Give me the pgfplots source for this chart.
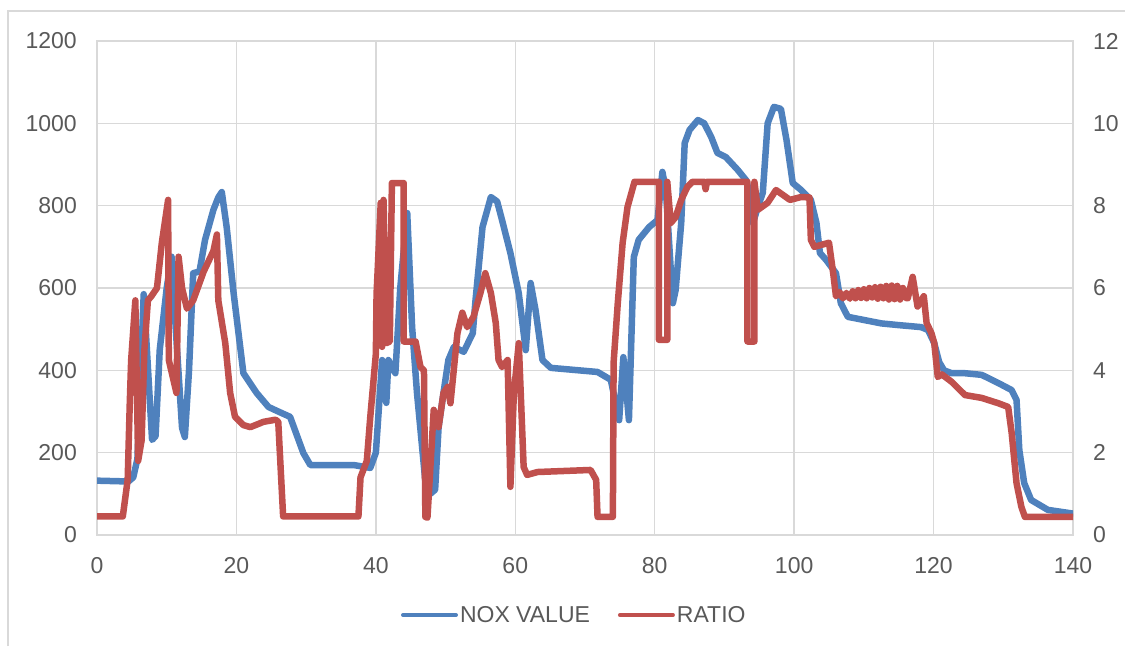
\documentclass[border=0pt]{standalone}
\usepackage{pgfplots}
\pgfplotsset{compat=1.18}
\usepackage{fontspec}
\setmainfont{Liberation Sans}
\definecolor{noxblue}{HTML}{4F81BD}
\definecolor{ratiored}{HTML}{C0504D}
\definecolor{txtgray}{HTML}{595959}
\definecolor{gridgray}{HTML}{D9D9D9}
\begin{document}
\begin{tikzpicture}[x=1pt,y=1pt]
\path[use as bounding box] (0,0) rectangle (1125,646);
\draw[gridgray, line width=1.5pt] (8,0) -- (8,635) -- (1125,635);
\pgfplotsset{
  every axis/.append style={
    scale only axis, width=976pt, height=494pt,
    at={(97pt,111pt)}, anchor=south west,
    xmin=0, xmax=140,
    major tick length=0pt,
    tick label style={font=\fontsize{23}{23}\selectfont, text=txtgray, inner sep=0pt},
    /pgf/number format/assume math mode=true,
    /pgf/number format/1000 sep={},
  }
}
\begin{axis}[
  ymin=0, ymax=1200,
  ytick={0,200,...,1200},
  xtick={0,20,...,140},
  grid=major,
  grid style={gridgray, line width=1.5pt},
  axis line style={gridgray, line width=1.5pt},
  yticklabel style={xshift=-20pt},
  xticklabel style={yshift=-22pt},
]
\addplot[noxblue, line width=6.5pt, line join=round, line cap=round] coordinates {
(0,132) (4.5,130) (5.2,140) (5.8,185) (6.7,585) (7.9,231) (8.4,240) (9.0,450) (10.0,600) (10.7,676)
(11.3,500) (12.2,260) (12.6,238) (13.2,400) (13.8,636) (14.7,640) (15.5,717) (16.7,790) (17.4,820)
(17.9,833) (18.6,748) (19.6,587) (21.0,393) (22.9,345) (24.6,311) (26.0,300) (27.7,287) (28.5,250)
(29.6,199) (30.6,170) (36.8,170) (39.2,163) (40.0,200) (40.9,425) (41.5,321) (41.8,425) (42.8,393)
(43.5,600) (44.5,782) (45.2,505) (45.9,345) (47.1,130) (47.8,100) (48.5,110) (49.0,262) (49.7,345)
(50.4,425) (51.2,457) (52.6,445) (53.9,490) (54.3,571) (55.3,748) (56.5,821) (57.4,810) (58.1,765)
(59.3,685) (60.5,587) (61.5,449) (62.2,612) (62.9,547) (63.9,425) (65.1,406) (71.8,396) (73.7,377)
(74.9,279) (75.5,432) (76.3,279) (77.0,675) (77.7,717) (79.2,748) (80.4,765) (81.1,882) (81.6,838)
(82.6,563) (83.0,595) (83.8,758) (84.3,952) (85.0,984) (86.2,1008) (87.1,1000) (88.1,967) (89.0,928)
(90.2,918) (91.9,887) (93.1,862) (93.5,838) (94.1,758) (94.8,797) (95.5,831) (96.2,1000) (97.1,1040)
(98.1,1035) (98.9,960) (99.8,855) (101.0,838) (102.4,814) (103.2,758) (103.7,685) (104.6,668)
(106.0,636) (106.7,563) (107.7,530) (110.1,522) (112.5,514) (114.9,510) (118.2,505) (119.2,498)
(120.1,466) (120.8,420) (121.5,400) (122.6,393) (124.5,393) (126.9,389) (129.3,369) (131.2,352)
(131.9,328) (132.3,206) (133.0,126) (134.0,85) (136.4,61) (140,52)
};
\end{axis}
\begin{axis}[
  ymin=0, ymax=12,
  ytick={0,2,...,12},
  axis x line=none,
  axis y line*=right,
  y axis line style={draw=none},
  yticklabel style={xshift=20pt},
  legend columns=2,
  legend style={at={(0.489,-0.162)}, anchor=center, draw=none, fill=none,
    font=\fontsize{23}{23}\selectfont, text=txtgray,
    /tikz/every even column/.append style={column sep=26pt},
    inner sep=0pt, row sep=0pt},
  legend cell align=left,
  legend image code/.code={\draw[#1, line width=4pt, line cap=round] (0pt,0pt) -- (53pt,0pt);},
]
\addlegendimage{noxblue}
\addlegendentry{NOX VALUE}
\addplot[ratiored, line width=6.5pt, line join=round, line cap=round] coordinates {
(0,0.45) (3.7,0.45) (4.4,1.34) (4.7,3.2) (4.9,4.25) (5.5,5.7) (5.9,1.8) (6.4,2.3) (6.8,4.5) (7.3,5.7)
(7.8,5.8) (8.6,6.0) (9.3,7.1) (10.2,8.14) (10.3,4.25) (11.4,3.45) (11.7,6.76) (12.2,6.0) (12.9,5.5)
(13.8,5.7) (15.3,6.4) (16.7,6.9) (17.2,7.3) (17.4,5.7) (18.4,4.66) (19.1,3.45) (19.8,2.87) (21.0,2.67)
(22.0,2.62) (23.9,2.75) (25.6,2.8) (26.0,2.75) (26.7,0.45) (37.5,0.45) (37.8,1.4) (38.7,1.8) (39.2,2.87)
(40.0,4.4) (40.1,5.85) (40.7,8.07) (40.9,4.57) (41.1,8.14) (41.5,4.66) (42.0,4.7) (42.3,8.55) (44.0,8.55)
(44.0,4.7) (45.7,4.7) (46.4,4.08) (46.9,4.0) (47.1,0.44) (47.4,0.42) (48.3,3.04) (49.0,2.62) (49.7,3.45)
(50.3,3.6) (50.7,3.2) (51.7,4.9) (52.4,5.4) (53.1,5.05) (54.0,5.3) (55.0,5.88) (55.7,6.36) (56.5,5.88)
(57.2,5.15) (57.6,4.25) (58.1,4.08) (58.9,4.25) (59.3,1.17) (59.8,3.45) (60.5,4.66) (61.2,1.65)
(61.7,1.46) (63.2,1.53) (70.8,1.58) (71.6,1.34) (71.8,0.44) (74.0,0.44) (74.1,4.18) (74.7,5.63)
(75.4,7.1) (76.1,7.97) (77.1,8.58) (80.6,8.58) (80.6,4.74) (81.8,4.74) (81.8,8.58) (82.3,7.58)
(83.0,7.72) (83.8,8.14) (84.7,8.46) (85.4,8.58) (87.1,8.58) (87.3,8.4) (87.5,8.58) (93.3,8.58)
(93.3,4.7) (94.3,4.7) (94.3,8.58) (94.8,7.9) (96.2,8.07) (97.4,8.38) (98.4,8.26) (99.4,8.14)
(101.0,8.21) (102.2,8.2) (102.4,7.17) (102.9,7.0) (105.0,7.1) (105.6,6.36) (106.0,5.8) (106.5,5.9)
(107.0,5.75) (107.5,5.88) (108.0,5.74) (108.4,5.92) (108.8,5.75) (109.2,5.95) (109.6,5.76)
(110.0,5.97) (110.4,5.75) (110.8,6.0) (111.2,5.77) (111.6,6.02) (112.0,5.74) (112.4,6.03)
(112.8,5.75) (113.2,6.05) (113.6,5.72) (114.0,6.06) (114.4,5.73) (114.8,6.05) (115.2,5.72)
(115.6,6.0) (116.0,5.76) (116.3,5.75) (117.0,6.27) (117.7,5.55) (118.6,5.8) (119.0,5.15)
(119.7,4.9) (120.1,4.66) (120.6,3.84) (121.2,3.9) (122.6,3.72) (124.5,3.4) (126.9,3.33) (129.3,3.2)
(130.7,3.11) (131.2,2.48) (131.9,1.26) (132.6,0.68) (133.1,0.44) (140,0.44)
};
\addlegendentry{RATIO}
\end{axis}
\end{tikzpicture}
\end{document}
